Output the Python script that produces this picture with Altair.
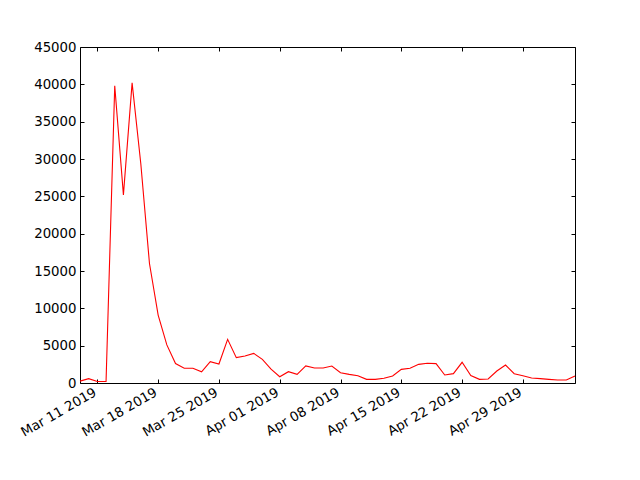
import altair as alt
import pandas as pd

start_date = "2019-03-09"
values = [250, 580, 200, 200, 39800, 25200, 40200, 29400, 16000, 9100,
          5100, 2600, 1970, 1970, 1500, 2860, 2540, 5850, 3400, 3620,
          3970, 3170, 1850, 840, 1520, 1160, 2280, 2010, 2010, 2280,
          1380, 1160, 980, 490, 490, 630, 940, 1830, 1970, 2500,
          2640, 2600, 1070, 1250, 2770, 1000, 490, 540, 1610, 2410,
          1250, 980, 670, 580, 490, 400, 400, 940]
tick_dates = ["2019-03-11", "2019-03-18", "2019-03-25", "2019-04-01",
              "2019-04-08", "2019-04-15", "2019-04-22", "2019-04-29"]
y_ticks = [0, 5000, 10000, 15000, 20000, 25000, 30000, 35000, 40000, 45000]

dates = pd.date_range(start_date, periods=len(values), freq="D")
df = pd.DataFrame({"date": [d.strftime("%Y-%m-%dT00:00:00") for d in dates],
                   "value": values})

def dt(s):
    y, m, d = s.split("-")
    return alt.DateTime(year=int(y), month=int(m), date=int(d))

x_domain = [dt("2019-03-09"), dt("2019-05-05")]
x_vals = [dt(s) for s in tick_dates]

FONT = "DejaVu Sans"
common_axis = dict(grid=False, domain=False, tickSize=4, offset=-4, tickColor="black",
                   tickWidth=1, labelFont=FONT, labelFontSize=13.3, labelColor="black",
                   title=None)

x_scale = alt.Scale(domain=x_domain)
y_scale = alt.Scale(domain=[0, 45000], nice=False)

main = alt.Chart(df).mark_line(color="red", strokeWidth=1.1).encode(
    x=alt.X("date:T", scale=x_scale,
            axis=alt.Axis(orient="bottom", values=x_vals, format="%b %d %Y",
                          labelAngle=330, labelAlign="right", labelBaseline="bottom",
                          labelPadding=14, labelOffset=1, labelOverlap=False,
                          labelBound=False, **common_axis)),
    y=alt.Y("value:Q", scale=y_scale,
            axis=alt.Axis(orient="left", values=y_ticks, format="d",
                          labelPadding=4, **common_axis)),
)

ghost = alt.Chart(df).mark_line(opacity=0).encode(
    x=alt.X("date:T", scale=x_scale,
            axis=alt.Axis(orient="top", values=x_vals, labels=False, **common_axis)),
    y=alt.Y("value:Q", scale=y_scale,
            axis=alt.Axis(orient="right", values=y_ticks, labels=False, **common_axis)),
)

chart = alt.layer(main, ghost).resolve_axis(x="independent", y="independent").properties(
    width=495, height=336,
    autosize=alt.AutoSizeParams(type="none"),
    padding={"left": 72, "top": 39, "right": 57, "bottom": 89},
    view=alt.ViewBackground(stroke="#000000", strokeWidth=1, strokeOpacity=1),
).configure_view(stroke="#000000", strokeWidth=1, strokeOpacity=1).configure(background="white")

chart.save("out.html", embed_options={"renderer": "svg", "actions": False})
